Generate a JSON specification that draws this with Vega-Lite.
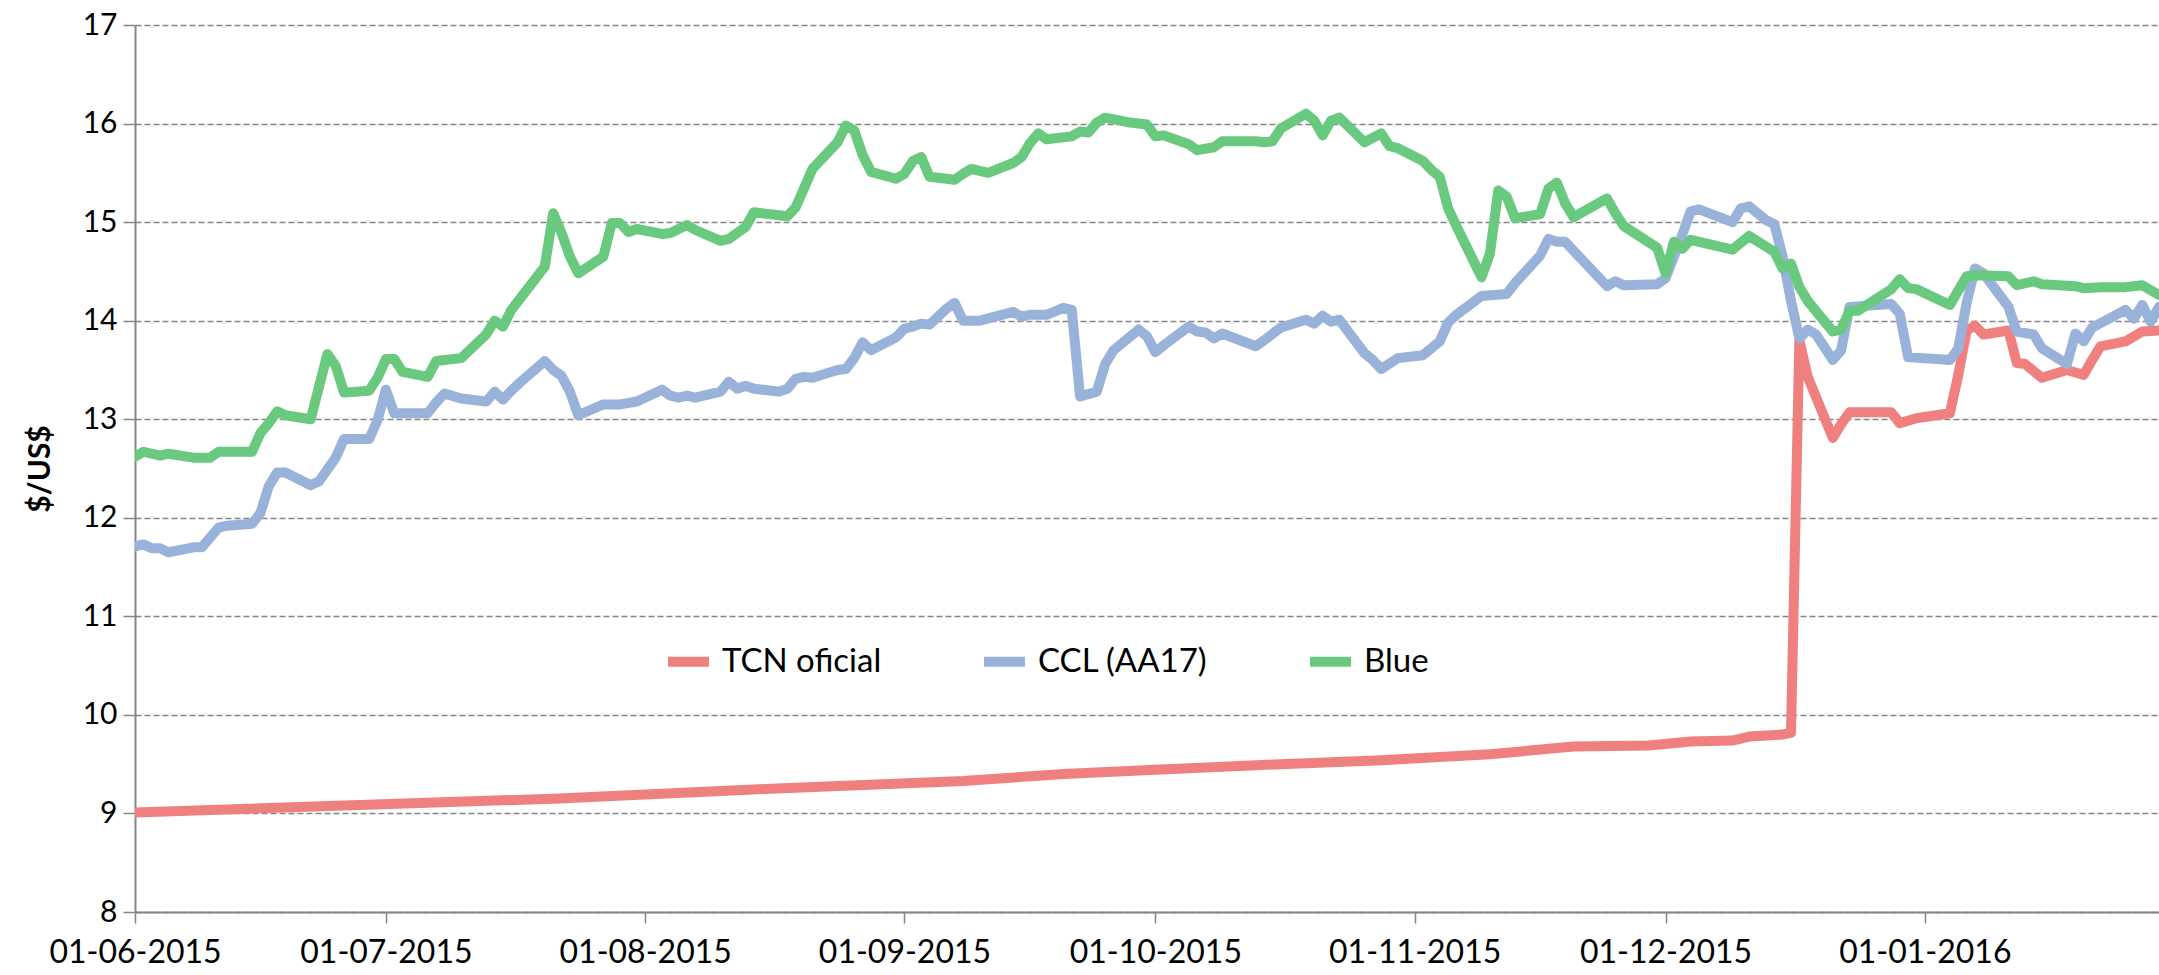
{
  "$schema": "https://vega.github.io/schema/vega-lite/v6.json",
  "width": 2024,
  "height": 887,
  "autosize": {"type": "none"},
  "padding": {"left": 135, "top": 25, "right": 0, "bottom": 63},
  "background": "white",
  "config": {"view": {"stroke": null}, "font": "Lato"},
  "data": {"values": [
    {"fecha": "2015-06-01", "serie": "TCN oficial", "valor": 9.01},
    {"fecha": "2015-06-26", "serie": "TCN oficial", "valor": 9.08},
    {"fecha": "2015-07-21", "serie": "TCN oficial", "valor": 9.15},
    {"fecha": "2015-08-16", "serie": "TCN oficial", "valor": 9.25},
    {"fecha": "2015-09-08", "serie": "TCN oficial", "valor": 9.33},
    {"fecha": "2015-09-20", "serie": "TCN oficial", "valor": 9.40},
    {"fecha": "2015-10-03", "serie": "TCN oficial", "valor": 9.45},
    {"fecha": "2015-10-16", "serie": "TCN oficial", "valor": 9.50},
    {"fecha": "2015-10-28", "serie": "TCN oficial", "valor": 9.54},
    {"fecha": "2015-11-10", "serie": "TCN oficial", "valor": 9.60},
    {"fecha": "2015-11-20", "serie": "TCN oficial", "valor": 9.68},
    {"fecha": "2015-11-29", "serie": "TCN oficial", "valor": 9.69},
    {"fecha": "2015-12-04", "serie": "TCN oficial", "valor": 9.73},
    {"fecha": "2015-12-09", "serie": "TCN oficial", "valor": 9.74},
    {"fecha": "2015-12-11", "serie": "TCN oficial", "valor": 9.78},
    {"fecha": "2015-12-15", "serie": "TCN oficial", "valor": 9.80},
    {"fecha": "2015-12-16", "serie": "TCN oficial", "valor": 9.82},
    {"fecha": "2015-12-17", "serie": "TCN oficial", "valor": 13.80},
    {"fecha": "2015-12-18", "serie": "TCN oficial", "valor": 13.43},
    {"fecha": "2015-12-21", "serie": "TCN oficial", "valor": 12.81},
    {"fecha": "2015-12-22", "serie": "TCN oficial", "valor": 12.95},
    {"fecha": "2015-12-23", "serie": "TCN oficial", "valor": 13.07},
    {"fecha": "2015-12-28", "serie": "TCN oficial", "valor": 13.07},
    {"fecha": "2015-12-29", "serie": "TCN oficial", "valor": 12.96},
    {"fecha": "2015-12-31", "serie": "TCN oficial", "valor": 13.01},
    {"fecha": "2016-01-04", "serie": "TCN oficial", "valor": 13.06},
    {"fecha": "2016-01-05", "serie": "TCN oficial", "valor": 13.45},
    {"fecha": "2016-01-06", "serie": "TCN oficial", "valor": 13.90},
    {"fecha": "2016-01-07", "serie": "TCN oficial", "valor": 13.95},
    {"fecha": "2016-01-08", "serie": "TCN oficial", "valor": 13.86},
    {"fecha": "2016-01-11", "serie": "TCN oficial", "valor": 13.90},
    {"fecha": "2016-01-12", "serie": "TCN oficial", "valor": 13.57},
    {"fecha": "2016-01-13", "serie": "TCN oficial", "valor": 13.56},
    {"fecha": "2016-01-15", "serie": "TCN oficial", "valor": 13.42},
    {"fecha": "2016-01-18", "serie": "TCN oficial", "valor": 13.50},
    {"fecha": "2016-01-20", "serie": "TCN oficial", "valor": 13.45},
    {"fecha": "2016-01-21", "serie": "TCN oficial", "valor": 13.60},
    {"fecha": "2016-01-22", "serie": "TCN oficial", "valor": 13.74},
    {"fecha": "2016-01-25", "serie": "TCN oficial", "valor": 13.79},
    {"fecha": "2016-01-27", "serie": "TCN oficial", "valor": 13.89},
    {"fecha": "2016-01-29", "serie": "TCN oficial", "valor": 13.90},

    {"fecha": "2015-06-01", "serie": "CCL (AA17)", "valor": 11.71},
    {"fecha": "2015-06-02", "serie": "CCL (AA17)", "valor": 11.73},
    {"fecha": "2015-06-03", "serie": "CCL (AA17)", "valor": 11.69},
    {"fecha": "2015-06-04", "serie": "CCL (AA17)", "valor": 11.69},
    {"fecha": "2015-06-05", "serie": "CCL (AA17)", "valor": 11.65},
    {"fecha": "2015-06-08", "serie": "CCL (AA17)", "valor": 11.70},
    {"fecha": "2015-06-09", "serie": "CCL (AA17)", "valor": 11.70},
    {"fecha": "2015-06-11", "serie": "CCL (AA17)", "valor": 11.90},
    {"fecha": "2015-06-12", "serie": "CCL (AA17)", "valor": 11.92},
    {"fecha": "2015-06-15", "serie": "CCL (AA17)", "valor": 11.94},
    {"fecha": "2015-06-16", "serie": "CCL (AA17)", "valor": 12.05},
    {"fecha": "2015-06-17", "serie": "CCL (AA17)", "valor": 12.32},
    {"fecha": "2015-06-18", "serie": "CCL (AA17)", "valor": 12.46},
    {"fecha": "2015-06-19", "serie": "CCL (AA17)", "valor": 12.46},
    {"fecha": "2015-06-22", "serie": "CCL (AA17)", "valor": 12.33},
    {"fecha": "2015-06-23", "serie": "CCL (AA17)", "valor": 12.37},
    {"fecha": "2015-06-25", "serie": "CCL (AA17)", "valor": 12.61},
    {"fecha": "2015-06-26", "serie": "CCL (AA17)", "valor": 12.80},
    {"fecha": "2015-06-29", "serie": "CCL (AA17)", "valor": 12.80},
    {"fecha": "2015-06-30", "serie": "CCL (AA17)", "valor": 12.99},
    {"fecha": "2015-07-01", "serie": "CCL (AA17)", "valor": 13.30},
    {"fecha": "2015-07-02", "serie": "CCL (AA17)", "valor": 13.06},
    {"fecha": "2015-07-06", "serie": "CCL (AA17)", "valor": 13.06},
    {"fecha": "2015-07-07", "serie": "CCL (AA17)", "valor": 13.17},
    {"fecha": "2015-07-08", "serie": "CCL (AA17)", "valor": 13.26},
    {"fecha": "2015-07-10", "serie": "CCL (AA17)", "valor": 13.21},
    {"fecha": "2015-07-13", "serie": "CCL (AA17)", "valor": 13.18},
    {"fecha": "2015-07-14", "serie": "CCL (AA17)", "valor": 13.28},
    {"fecha": "2015-07-15", "serie": "CCL (AA17)", "valor": 13.20},
    {"fecha": "2015-07-16", "serie": "CCL (AA17)", "valor": 13.29},
    {"fecha": "2015-07-17", "serie": "CCL (AA17)", "valor": 13.37},
    {"fecha": "2015-07-20", "serie": "CCL (AA17)", "valor": 13.59},
    {"fecha": "2015-07-21", "serie": "CCL (AA17)", "valor": 13.50},
    {"fecha": "2015-07-22", "serie": "CCL (AA17)", "valor": 13.44},
    {"fecha": "2015-07-23", "serie": "CCL (AA17)", "valor": 13.28},
    {"fecha": "2015-07-24", "serie": "CCL (AA17)", "valor": 13.04},
    {"fecha": "2015-07-27", "serie": "CCL (AA17)", "valor": 13.15},
    {"fecha": "2015-07-29", "serie": "CCL (AA17)", "valor": 13.15},
    {"fecha": "2015-07-31", "serie": "CCL (AA17)", "valor": 13.18},
    {"fecha": "2015-08-03", "serie": "CCL (AA17)", "valor": 13.30},
    {"fecha": "2015-08-04", "serie": "CCL (AA17)", "valor": 13.24},
    {"fecha": "2015-08-05", "serie": "CCL (AA17)", "valor": 13.22},
    {"fecha": "2015-08-06", "serie": "CCL (AA17)", "valor": 13.24},
    {"fecha": "2015-08-07", "serie": "CCL (AA17)", "valor": 13.22},
    {"fecha": "2015-08-10", "serie": "CCL (AA17)", "valor": 13.28},
    {"fecha": "2015-08-11", "serie": "CCL (AA17)", "valor": 13.38},
    {"fecha": "2015-08-12", "serie": "CCL (AA17)", "valor": 13.31},
    {"fecha": "2015-08-13", "serie": "CCL (AA17)", "valor": 13.34},
    {"fecha": "2015-08-14", "serie": "CCL (AA17)", "valor": 13.31},
    {"fecha": "2015-08-17", "serie": "CCL (AA17)", "valor": 13.28},
    {"fecha": "2015-08-18", "serie": "CCL (AA17)", "valor": 13.31},
    {"fecha": "2015-08-19", "serie": "CCL (AA17)", "valor": 13.41},
    {"fecha": "2015-08-20", "serie": "CCL (AA17)", "valor": 13.43},
    {"fecha": "2015-08-21", "serie": "CCL (AA17)", "valor": 13.42},
    {"fecha": "2015-08-24", "serie": "CCL (AA17)", "valor": 13.50},
    {"fecha": "2015-08-25", "serie": "CCL (AA17)", "valor": 13.51},
    {"fecha": "2015-08-26", "serie": "CCL (AA17)", "valor": 13.62},
    {"fecha": "2015-08-27", "serie": "CCL (AA17)", "valor": 13.78},
    {"fecha": "2015-08-28", "serie": "CCL (AA17)", "valor": 13.70},
    {"fecha": "2015-08-31", "serie": "CCL (AA17)", "valor": 13.83},
    {"fecha": "2015-09-01", "serie": "CCL (AA17)", "valor": 13.92},
    {"fecha": "2015-09-02", "serie": "CCL (AA17)", "valor": 13.94},
    {"fecha": "2015-09-03", "serie": "CCL (AA17)", "valor": 13.97},
    {"fecha": "2015-09-04", "serie": "CCL (AA17)", "valor": 13.96},
    {"fecha": "2015-09-06", "serie": "CCL (AA17)", "valor": 14.12},
    {"fecha": "2015-09-07", "serie": "CCL (AA17)", "valor": 14.18},
    {"fecha": "2015-09-08", "serie": "CCL (AA17)", "valor": 14.00},
    {"fecha": "2015-09-10", "serie": "CCL (AA17)", "valor": 14.00},
    {"fecha": "2015-09-14", "serie": "CCL (AA17)", "valor": 14.09},
    {"fecha": "2015-09-15", "serie": "CCL (AA17)", "valor": 14.04},
    {"fecha": "2015-09-16", "serie": "CCL (AA17)", "valor": 14.06},
    {"fecha": "2015-09-18", "serie": "CCL (AA17)", "valor": 14.06},
    {"fecha": "2015-09-20", "serie": "CCL (AA17)", "valor": 14.13},
    {"fecha": "2015-09-21", "serie": "CCL (AA17)", "valor": 14.11},
    {"fecha": "2015-09-22", "serie": "CCL (AA17)", "valor": 13.23},
    {"fecha": "2015-09-24", "serie": "CCL (AA17)", "valor": 13.28},
    {"fecha": "2015-09-25", "serie": "CCL (AA17)", "valor": 13.56},
    {"fecha": "2015-09-26", "serie": "CCL (AA17)", "valor": 13.70},
    {"fecha": "2015-09-29", "serie": "CCL (AA17)", "valor": 13.91},
    {"fecha": "2015-09-30", "serie": "CCL (AA17)", "valor": 13.84},
    {"fecha": "2015-10-01", "serie": "CCL (AA17)", "valor": 13.68},
    {"fecha": "2015-10-02", "serie": "CCL (AA17)", "valor": 13.75},
    {"fecha": "2015-10-05", "serie": "CCL (AA17)", "valor": 13.94},
    {"fecha": "2015-10-06", "serie": "CCL (AA17)", "valor": 13.89},
    {"fecha": "2015-10-07", "serie": "CCL (AA17)", "valor": 13.88},
    {"fecha": "2015-10-08", "serie": "CCL (AA17)", "valor": 13.82},
    {"fecha": "2015-10-09", "serie": "CCL (AA17)", "valor": 13.87},
    {"fecha": "2015-10-13", "serie": "CCL (AA17)", "valor": 13.74},
    {"fecha": "2015-10-14", "serie": "CCL (AA17)", "valor": 13.80},
    {"fecha": "2015-10-16", "serie": "CCL (AA17)", "valor": 13.93},
    {"fecha": "2015-10-19", "serie": "CCL (AA17)", "valor": 14.01},
    {"fecha": "2015-10-20", "serie": "CCL (AA17)", "valor": 13.97},
    {"fecha": "2015-10-21", "serie": "CCL (AA17)", "valor": 14.05},
    {"fecha": "2015-10-22", "serie": "CCL (AA17)", "valor": 13.99},
    {"fecha": "2015-10-23", "serie": "CCL (AA17)", "valor": 14.01},
    {"fecha": "2015-10-26", "serie": "CCL (AA17)", "valor": 13.67},
    {"fecha": "2015-10-27", "serie": "CCL (AA17)", "valor": 13.60},
    {"fecha": "2015-10-28", "serie": "CCL (AA17)", "valor": 13.51},
    {"fecha": "2015-10-30", "serie": "CCL (AA17)", "valor": 13.62},
    {"fecha": "2015-11-02", "serie": "CCL (AA17)", "valor": 13.65},
    {"fecha": "2015-11-04", "serie": "CCL (AA17)", "valor": 13.79},
    {"fecha": "2015-11-05", "serie": "CCL (AA17)", "valor": 13.98},
    {"fecha": "2015-11-06", "serie": "CCL (AA17)", "valor": 14.06},
    {"fecha": "2015-11-09", "serie": "CCL (AA17)", "valor": 14.25},
    {"fecha": "2015-11-12", "serie": "CCL (AA17)", "valor": 14.27},
    {"fecha": "2015-11-13", "serie": "CCL (AA17)", "valor": 14.38},
    {"fecha": "2015-11-16", "serie": "CCL (AA17)", "valor": 14.66},
    {"fecha": "2015-11-17", "serie": "CCL (AA17)", "valor": 14.83},
    {"fecha": "2015-11-18", "serie": "CCL (AA17)", "valor": 14.80},
    {"fecha": "2015-11-19", "serie": "CCL (AA17)", "valor": 14.80},
    {"fecha": "2015-11-24", "serie": "CCL (AA17)", "valor": 14.35},
    {"fecha": "2015-11-25", "serie": "CCL (AA17)", "valor": 14.40},
    {"fecha": "2015-11-26", "serie": "CCL (AA17)", "valor": 14.36},
    {"fecha": "2015-11-30", "serie": "CCL (AA17)", "valor": 14.37},
    {"fecha": "2015-12-01", "serie": "CCL (AA17)", "valor": 14.43},
    {"fecha": "2015-12-03", "serie": "CCL (AA17)", "valor": 14.87},
    {"fecha": "2015-12-04", "serie": "CCL (AA17)", "valor": 15.11},
    {"fecha": "2015-12-05", "serie": "CCL (AA17)", "valor": 15.13},
    {"fecha": "2015-12-09", "serie": "CCL (AA17)", "valor": 15.00},
    {"fecha": "2015-12-10", "serie": "CCL (AA17)", "valor": 15.14},
    {"fecha": "2015-12-11", "serie": "CCL (AA17)", "valor": 15.16},
    {"fecha": "2015-12-13", "serie": "CCL (AA17)", "valor": 15.02},
    {"fecha": "2015-12-14", "serie": "CCL (AA17)", "valor": 14.98},
    {"fecha": "2015-12-15", "serie": "CCL (AA17)", "valor": 14.65},
    {"fecha": "2015-12-16", "serie": "CCL (AA17)", "valor": 14.20},
    {"fecha": "2015-12-17", "serie": "CCL (AA17)", "valor": 13.82},
    {"fecha": "2015-12-18", "serie": "CCL (AA17)", "valor": 13.91},
    {"fecha": "2015-12-19", "serie": "CCL (AA17)", "valor": 13.86},
    {"fecha": "2015-12-21", "serie": "CCL (AA17)", "valor": 13.60},
    {"fecha": "2015-12-22", "serie": "CCL (AA17)", "valor": 13.70},
    {"fecha": "2015-12-23", "serie": "CCL (AA17)", "valor": 14.14},
    {"fecha": "2015-12-28", "serie": "CCL (AA17)", "valor": 14.17},
    {"fecha": "2015-12-29", "serie": "CCL (AA17)", "valor": 14.07},
    {"fecha": "2015-12-30", "serie": "CCL (AA17)", "valor": 13.63},
    {"fecha": "2016-01-04", "serie": "CCL (AA17)", "valor": 13.60},
    {"fecha": "2016-01-05", "serie": "CCL (AA17)", "valor": 13.72},
    {"fecha": "2016-01-06", "serie": "CCL (AA17)", "valor": 14.18},
    {"fecha": "2016-01-07", "serie": "CCL (AA17)", "valor": 14.53},
    {"fecha": "2016-01-08", "serie": "CCL (AA17)", "valor": 14.48},
    {"fecha": "2016-01-11", "serie": "CCL (AA17)", "valor": 14.14},
    {"fecha": "2016-01-12", "serie": "CCL (AA17)", "valor": 13.89},
    {"fecha": "2016-01-14", "serie": "CCL (AA17)", "valor": 13.86},
    {"fecha": "2016-01-15", "serie": "CCL (AA17)", "valor": 13.72},
    {"fecha": "2016-01-18", "serie": "CCL (AA17)", "valor": 13.56},
    {"fecha": "2016-01-19", "serie": "CCL (AA17)", "valor": 13.87},
    {"fecha": "2016-01-20", "serie": "CCL (AA17)", "valor": 13.79},
    {"fecha": "2016-01-21", "serie": "CCL (AA17)", "valor": 13.93},
    {"fecha": "2016-01-25", "serie": "CCL (AA17)", "valor": 14.11},
    {"fecha": "2016-01-26", "serie": "CCL (AA17)", "valor": 14.02},
    {"fecha": "2016-01-27", "serie": "CCL (AA17)", "valor": 14.16},
    {"fecha": "2016-01-28", "serie": "CCL (AA17)", "valor": 13.99},
    {"fecha": "2016-01-29", "serie": "CCL (AA17)", "valor": 14.14},

    {"fecha": "2015-06-01", "serie": "Blue", "valor": 12.62},
    {"fecha": "2015-06-02", "serie": "Blue", "valor": 12.67},
    {"fecha": "2015-06-04", "serie": "Blue", "valor": 12.63},
    {"fecha": "2015-06-05", "serie": "Blue", "valor": 12.65},
    {"fecha": "2015-06-08", "serie": "Blue", "valor": 12.61},
    {"fecha": "2015-06-10", "serie": "Blue", "valor": 12.61},
    {"fecha": "2015-06-11", "serie": "Blue", "valor": 12.67},
    {"fecha": "2015-06-15", "serie": "Blue", "valor": 12.67},
    {"fecha": "2015-06-16", "serie": "Blue", "valor": 12.86},
    {"fecha": "2015-06-17", "serie": "Blue", "valor": 12.96},
    {"fecha": "2015-06-18", "serie": "Blue", "valor": 13.08},
    {"fecha": "2015-06-19", "serie": "Blue", "valor": 13.04},
    {"fecha": "2015-06-22", "serie": "Blue", "valor": 13.00},
    {"fecha": "2015-06-24", "serie": "Blue", "valor": 13.66},
    {"fecha": "2015-06-25", "serie": "Blue", "valor": 13.54},
    {"fecha": "2015-06-26", "serie": "Blue", "valor": 13.27},
    {"fecha": "2015-06-29", "serie": "Blue", "valor": 13.29},
    {"fecha": "2015-06-30", "serie": "Blue", "valor": 13.42},
    {"fecha": "2015-07-01", "serie": "Blue", "valor": 13.61},
    {"fecha": "2015-07-02", "serie": "Blue", "valor": 13.61},
    {"fecha": "2015-07-03", "serie": "Blue", "valor": 13.48},
    {"fecha": "2015-07-06", "serie": "Blue", "valor": 13.43},
    {"fecha": "2015-07-07", "serie": "Blue", "valor": 13.59},
    {"fecha": "2015-07-10", "serie": "Blue", "valor": 13.62},
    {"fecha": "2015-07-13", "serie": "Blue", "valor": 13.86},
    {"fecha": "2015-07-14", "serie": "Blue", "valor": 14.00},
    {"fecha": "2015-07-15", "serie": "Blue", "valor": 13.94},
    {"fecha": "2015-07-16", "serie": "Blue", "valor": 14.11},
    {"fecha": "2015-07-20", "serie": "Blue", "valor": 14.55},
    {"fecha": "2015-07-21", "serie": "Blue", "valor": 15.09},
    {"fecha": "2015-07-22", "serie": "Blue", "valor": 14.89},
    {"fecha": "2015-07-23", "serie": "Blue", "valor": 14.65},
    {"fecha": "2015-07-24", "serie": "Blue", "valor": 14.48},
    {"fecha": "2015-07-27", "serie": "Blue", "valor": 14.65},
    {"fecha": "2015-07-28", "serie": "Blue", "valor": 14.99},
    {"fecha": "2015-07-29", "serie": "Blue", "valor": 14.99},
    {"fecha": "2015-07-30", "serie": "Blue", "valor": 14.90},
    {"fecha": "2015-07-31", "serie": "Blue", "valor": 14.93},
    {"fecha": "2015-08-03", "serie": "Blue", "valor": 14.88},
    {"fecha": "2015-08-04", "serie": "Blue", "valor": 14.89},
    {"fecha": "2015-08-06", "serie": "Blue", "valor": 14.97},
    {"fecha": "2015-08-07", "serie": "Blue", "valor": 14.92},
    {"fecha": "2015-08-10", "serie": "Blue", "valor": 14.81},
    {"fecha": "2015-08-11", "serie": "Blue", "valor": 14.83},
    {"fecha": "2015-08-13", "serie": "Blue", "valor": 14.95},
    {"fecha": "2015-08-14", "serie": "Blue", "valor": 15.10},
    {"fecha": "2015-08-18", "serie": "Blue", "valor": 15.06},
    {"fecha": "2015-08-19", "serie": "Blue", "valor": 15.15},
    {"fecha": "2015-08-21", "serie": "Blue", "valor": 15.54},
    {"fecha": "2015-08-24", "serie": "Blue", "valor": 15.81},
    {"fecha": "2015-08-25", "serie": "Blue", "valor": 15.98},
    {"fecha": "2015-08-26", "serie": "Blue", "valor": 15.93},
    {"fecha": "2015-08-27", "serie": "Blue", "valor": 15.68},
    {"fecha": "2015-08-28", "serie": "Blue", "valor": 15.51},
    {"fecha": "2015-08-31", "serie": "Blue", "valor": 15.44},
    {"fecha": "2015-09-01", "serie": "Blue", "valor": 15.49},
    {"fecha": "2015-09-02", "serie": "Blue", "valor": 15.62},
    {"fecha": "2015-09-03", "serie": "Blue", "valor": 15.66},
    {"fecha": "2015-09-04", "serie": "Blue", "valor": 15.46},
    {"fecha": "2015-09-07", "serie": "Blue", "valor": 15.43},
    {"fecha": "2015-09-08", "serie": "Blue", "valor": 15.49},
    {"fecha": "2015-09-09", "serie": "Blue", "valor": 15.54},
    {"fecha": "2015-09-11", "serie": "Blue", "valor": 15.50},
    {"fecha": "2015-09-14", "serie": "Blue", "valor": 15.60},
    {"fecha": "2015-09-15", "serie": "Blue", "valor": 15.66},
    {"fecha": "2015-09-16", "serie": "Blue", "valor": 15.80},
    {"fecha": "2015-09-17", "serie": "Blue", "valor": 15.90},
    {"fecha": "2015-09-18", "serie": "Blue", "valor": 15.84},
    {"fecha": "2015-09-21", "serie": "Blue", "valor": 15.87},
    {"fecha": "2015-09-22", "serie": "Blue", "valor": 15.92},
    {"fecha": "2015-09-23", "serie": "Blue", "valor": 15.91},
    {"fecha": "2015-09-24", "serie": "Blue", "valor": 16.01},
    {"fecha": "2015-09-25", "serie": "Blue", "valor": 16.06},
    {"fecha": "2015-09-28", "serie": "Blue", "valor": 16.01},
    {"fecha": "2015-09-30", "serie": "Blue", "valor": 15.99},
    {"fecha": "2015-10-01", "serie": "Blue", "valor": 15.87},
    {"fecha": "2015-10-02", "serie": "Blue", "valor": 15.88},
    {"fecha": "2015-10-05", "serie": "Blue", "valor": 15.79},
    {"fecha": "2015-10-06", "serie": "Blue", "valor": 15.73},
    {"fecha": "2015-10-08", "serie": "Blue", "valor": 15.76},
    {"fecha": "2015-10-09", "serie": "Blue", "valor": 15.82},
    {"fecha": "2015-10-13", "serie": "Blue", "valor": 15.82},
    {"fecha": "2015-10-14", "serie": "Blue", "valor": 15.81},
    {"fecha": "2015-10-15", "serie": "Blue", "valor": 15.82},
    {"fecha": "2015-10-16", "serie": "Blue", "valor": 15.95},
    {"fecha": "2015-10-19", "serie": "Blue", "valor": 16.10},
    {"fecha": "2015-10-20", "serie": "Blue", "valor": 16.03},
    {"fecha": "2015-10-21", "serie": "Blue", "valor": 15.88},
    {"fecha": "2015-10-22", "serie": "Blue", "valor": 16.03},
    {"fecha": "2015-10-23", "serie": "Blue", "valor": 16.06},
    {"fecha": "2015-10-26", "serie": "Blue", "valor": 15.81},
    {"fecha": "2015-10-28", "serie": "Blue", "valor": 15.90},
    {"fecha": "2015-10-29", "serie": "Blue", "valor": 15.77},
    {"fecha": "2015-10-30", "serie": "Blue", "valor": 15.75},
    {"fecha": "2015-11-02", "serie": "Blue", "valor": 15.62},
    {"fecha": "2015-11-03", "serie": "Blue", "valor": 15.53},
    {"fecha": "2015-11-04", "serie": "Blue", "valor": 15.46},
    {"fecha": "2015-11-05", "serie": "Blue", "valor": 15.14},
    {"fecha": "2015-11-06", "serie": "Blue", "valor": 14.96},
    {"fecha": "2015-11-09", "serie": "Blue", "valor": 14.44},
    {"fecha": "2015-11-10", "serie": "Blue", "valor": 14.68},
    {"fecha": "2015-11-11", "serie": "Blue", "valor": 15.32},
    {"fecha": "2015-11-12", "serie": "Blue", "valor": 15.26},
    {"fecha": "2015-11-13", "serie": "Blue", "valor": 15.04},
    {"fecha": "2015-11-16", "serie": "Blue", "valor": 15.08},
    {"fecha": "2015-11-17", "serie": "Blue", "valor": 15.34},
    {"fecha": "2015-11-18", "serie": "Blue", "valor": 15.40},
    {"fecha": "2015-11-19", "serie": "Blue", "valor": 15.19},
    {"fecha": "2015-11-20", "serie": "Blue", "valor": 15.05},
    {"fecha": "2015-11-24", "serie": "Blue", "valor": 15.24},
    {"fecha": "2015-11-25", "serie": "Blue", "valor": 15.09},
    {"fecha": "2015-11-26", "serie": "Blue", "valor": 14.96},
    {"fecha": "2015-11-30", "serie": "Blue", "valor": 14.74},
    {"fecha": "2015-12-01", "serie": "Blue", "valor": 14.48},
    {"fecha": "2015-12-02", "serie": "Blue", "valor": 14.80},
    {"fecha": "2015-12-03", "serie": "Blue", "valor": 14.73},
    {"fecha": "2015-12-04", "serie": "Blue", "valor": 14.82},
    {"fecha": "2015-12-09", "serie": "Blue", "valor": 14.72},
    {"fecha": "2015-12-11", "serie": "Blue", "valor": 14.86},
    {"fecha": "2015-12-14", "serie": "Blue", "valor": 14.70},
    {"fecha": "2015-12-15", "serie": "Blue", "valor": 14.53},
    {"fecha": "2015-12-16", "serie": "Blue", "valor": 14.58},
    {"fecha": "2015-12-17", "serie": "Blue", "valor": 14.34},
    {"fecha": "2015-12-18", "serie": "Blue", "valor": 14.20},
    {"fecha": "2015-12-21", "serie": "Blue", "valor": 13.89},
    {"fecha": "2015-12-22", "serie": "Blue", "valor": 13.91},
    {"fecha": "2015-12-23", "serie": "Blue", "valor": 14.10},
    {"fecha": "2015-12-24", "serie": "Blue", "valor": 14.10},
    {"fecha": "2015-12-28", "serie": "Blue", "valor": 14.32},
    {"fecha": "2015-12-29", "serie": "Blue", "valor": 14.42},
    {"fecha": "2015-12-30", "serie": "Blue", "valor": 14.33},
    {"fecha": "2015-12-31", "serie": "Blue", "valor": 14.32},
    {"fecha": "2016-01-04", "serie": "Blue", "valor": 14.16},
    {"fecha": "2016-01-06", "serie": "Blue", "valor": 14.45},
    {"fecha": "2016-01-07", "serie": "Blue", "valor": 14.46},
    {"fecha": "2016-01-11", "serie": "Blue", "valor": 14.45},
    {"fecha": "2016-01-12", "serie": "Blue", "valor": 14.36},
    {"fecha": "2016-01-14", "serie": "Blue", "valor": 14.40},
    {"fecha": "2016-01-15", "serie": "Blue", "valor": 14.37},
    {"fecha": "2016-01-19", "serie": "Blue", "valor": 14.35},
    {"fecha": "2016-01-20", "serie": "Blue", "valor": 14.33},
    {"fecha": "2016-01-22", "serie": "Blue", "valor": 14.34},
    {"fecha": "2016-01-25", "serie": "Blue", "valor": 14.34},
    {"fecha": "2016-01-27", "serie": "Blue", "valor": 14.36},
    {"fecha": "2016-01-29", "serie": "Blue", "valor": 14.26}
  ]},
  "mark": {"type": "line", "strokeWidth": 10, "strokeCap": "round", "strokeJoin": "round", "clip": true},
  "encoding": {
    "x": {
      "field": "fecha", "type": "temporal",
      "scale": {"type": "utc", "domain": [{"year": 2015, "month": 6, "date": 1, "utc": true}, {"year": 2016, "month": 1, "date": 29, "utc": true}], "nice": false},
      "axis": {
        "title": null,
        "values": [
          {"year": 2015, "month": 6, "date": 1, "utc": true},
          {"year": 2015, "month": 7, "date": 1, "utc": true},
          {"year": 2015, "month": 8, "date": 1, "utc": true},
          {"year": 2015, "month": 9, "date": 1, "utc": true},
          {"year": 2015, "month": 10, "date": 1, "utc": true},
          {"year": 2015, "month": 11, "date": 1, "utc": true},
          {"year": 2015, "month": 12, "date": 1, "utc": true},
          {"year": 2016, "month": 1, "date": 1, "utc": true}
        ],
        "labelExpr": "utcFormat(datum.value, '%d-%m-%Y')",
        "labelFontSize": 32, "labelColor": "#000000", "labelPadding": 14, "labelFlush": false, "labelOverlap": false,
        "tickSize": 11, "tickColor": "#868686", "tickWidth": 1.5,
        "domainColor": "#868686", "domainWidth": 2, "grid": false
      }
    },
    "y": {
      "field": "valor", "type": "quantitative",
      "scale": {"domain": [8, 17], "nice": false, "zero": false},
      "axis": {
        "title": "$/US$", "titleFontSize": 30, "titleFontWeight": "bold", "titleColor": "#000000", "titlePadding": 27,
        "values": [8, 9, 10, 11, 12, 13, 14, 15, 16, 17], "format": "d",
        "labelFontSize": 30, "labelColor": "#000000", "labelPadding": 6,
        "tickSize": 12, "tickColor": "#868686", "tickWidth": 1.5,
        "domainColor": "#868686", "domainWidth": 2,
        "grid": true, "gridColor": "#868686", "gridDash": [6, 3], "gridWidth": 1.5
      }
    },
    "color": {
      "field": "serie", "type": "nominal",
      "scale": {"domain": ["TCN oficial", "CCL (AA17)", "Blue"], "range": ["#F08080", "#99B2D9", "#68C97F"]},
      "legend": {
        "orient": "none", "legendX": 528, "legendY": 611, "direction": "horizontal", "title": null,
        "symbolType": "stroke", "symbolStrokeWidth": 10, "symbolSize": 1681,
        "labelFontSize": 33, "labelColor": "#000000", "labelLimit": 500, "columnPadding": 82, "labelOffset": 8
      }
    }
  }
}
